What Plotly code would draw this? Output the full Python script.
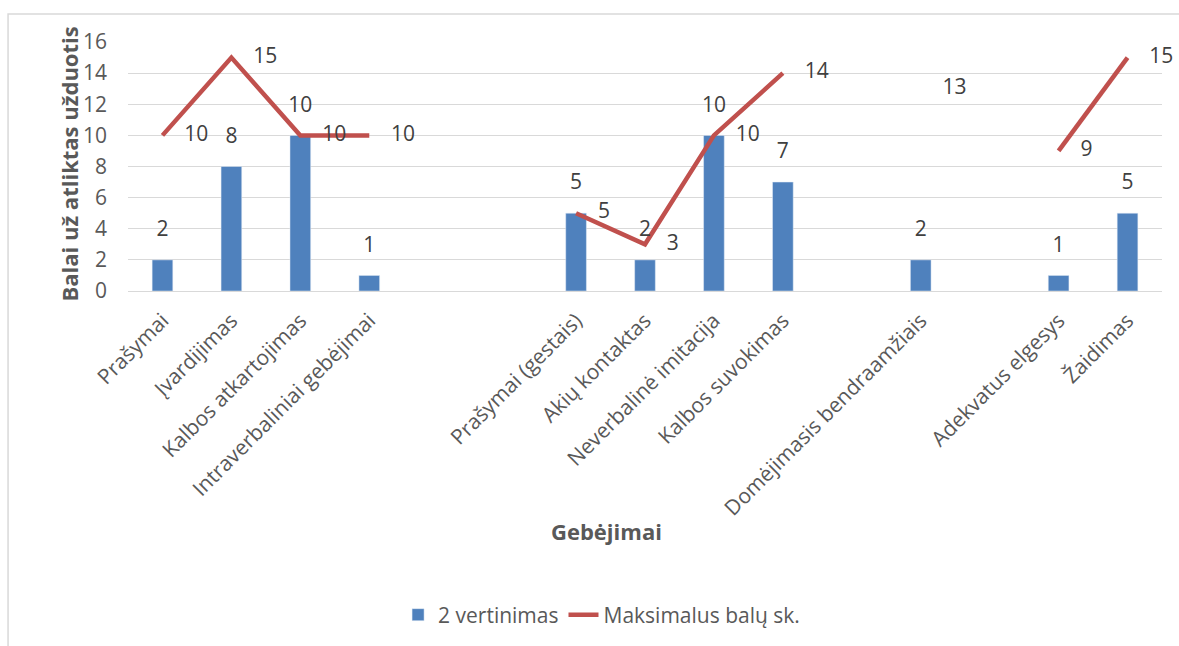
import plotly.graph_objects as go

categories = ["Prašymai", "Įvardijimas", "Kalbos atkartojimas", "Intraverbaliniai gebėjimai",
              "", "", "Prašymai (gestais)", "Akių kontaktas", "Neverbalinė imitacija",
              "Kalbos suvokimas", "", "Domėjimasis bendraamžiais", "", "Adekvatus elgesys", "Žaidimas"]
vertinimas = [2, 8, 10, 1, None, None, 5, 2, 10, 7, None, 2, None, 1, 5]
maksimalus = [10, 15, 10, 10, None, None, 5, 3, 10, 14, None, 13, None, 9, 15]
y_ticks = [0, 2, 4, 6, 8, 10, 12, 14, 16]

x = list(range(len(categories)))
FONT = "Open Sans"
FS = 21

fig = go.Figure()
fig.add_trace(go.Bar(
    x=x, y=vertinimas, name="2 vertinimas", marker_color="#4F81BD", width=0.3,
))
fig.add_trace(go.Scatter(
    x=x, y=maksimalus, name="Maksimalus balų sk.", mode="lines+text",
    line=dict(color="#C0504D", width=4.5), connectgaps=False,
    text=[("" if v is None else "    " + str(v)) for v in maksimalus],
    textposition="middle right",
    textfont=dict(size=FS, color="#404040", family=FONT), cliponaxis=False,
))
# bar value labels
fig.add_trace(go.Scatter(
    x=x, y=vertinimas, mode="markers+text", showlegend=False, hoverinfo="skip",
    marker=dict(size=28, opacity=0),
    text=[("" if v is None else str(v)) for v in vertinimas], textposition="top center",
    textfont=dict(size=FS, color="#404040", family=FONT), cliponaxis=False,
))

fig.update_layout(
    width=1179, height=646,
    margin=dict(l=128, r=17, t=42, b=354),
    paper_bgcolor="white", plot_bgcolor="white",
    font=dict(family=FONT, color="#595959", size=FS),
    showlegend=True,
    legend=dict(orientation="h", x=0.458, y=-1.292, xanchor="center", yanchor="middle",
                font=dict(size=FS, color="#595959"), traceorder="normal"),
    xaxis=dict(tickmode="array", tickvals=x, ticktext=categories, tickangle=-45,
               range=[-0.5, len(categories) - 0.5], showgrid=False,
               showline=True, linecolor="#d9d9d9", linewidth=1, ticks="",
               ticklabelstandoff=8,
               tickfont=dict(size=FS, color="#595959")),
    yaxis=dict(range=[0, 16], tickvals=y_ticks, showgrid=True, gridcolor="#d9d9d9",
               gridwidth=1, zeroline=False, showline=False, ticks="",
               ticklabelstandoff=20,
               tickfont=dict(size=FS, color="#595959")),
    bargap=0.7,
    annotations=[
        dict(text="<b>Gebėjimai</b>", xref="paper", yref="paper", x=0.463, y=-0.964,
             xanchor="center", yanchor="middle",
             showarrow=False, font=dict(size=22, color="#595959")),
        dict(text="<b>Balai už atliktas užduotis</b>", xref="paper", yref="paper", x=-0.058, y=0.508,
             xanchor="center", yanchor="middle",
             showarrow=False, textangle=-90, font=dict(size=22, color="#595959")),
    ],
    shapes=[
        dict(type="rect", xref="paper", yref="paper", x0=-0.116, x1=1.05, y0=-1.45, y1=1.112,
             line=dict(color="#d9d9d9", width=1.5), fillcolor="rgba(0,0,0,0)", layer="below"),
    ],
)

fig.write_html("out.html")
